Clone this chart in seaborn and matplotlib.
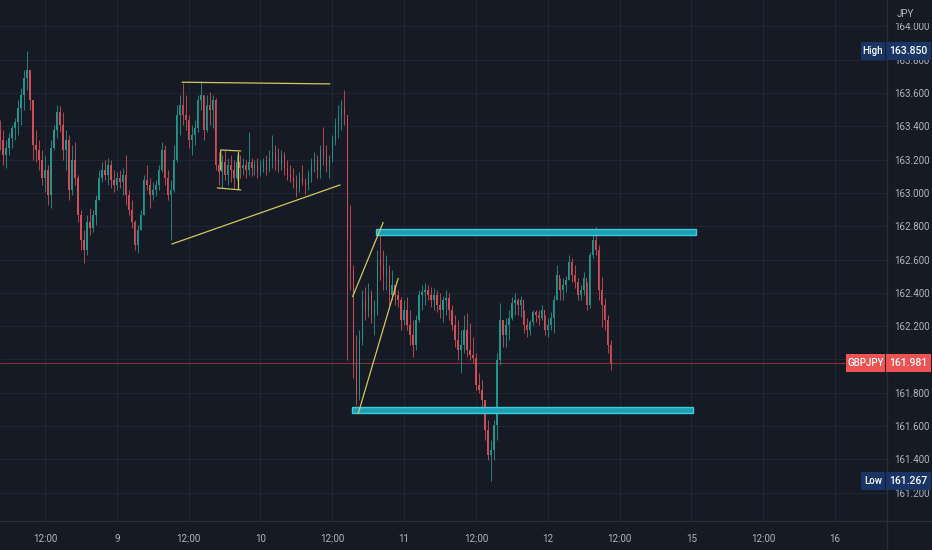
import numpy as np
import matplotlib
matplotlib.use("Agg")
import matplotlib.pyplot as plt
import seaborn as sns
import pandas as pd
from matplotlib.patches import Rectangle
from matplotlib.lines import Line2D
from matplotlib.transforms import blended_transform_factory

# ---------------- data (30-minute candles, GBPJPY) ----------------
first_open = 163.380
highs = [163.438, 163.378, 163.318, 163.360, 163.408, 163.450, 163.558, 163.630, 163.738, 163.850,
         163.738, 163.558, 163.378, 163.318, 163.258, 163.228, 163.168, 163.318, 163.408, 163.528,
         163.522, 163.486, 163.378, 163.348, 163.288, 163.306, 163.108, 162.898, 162.778, 162.868,
         162.910, 162.898, 162.988, 163.138, 163.186, 163.198, 163.210, 163.198, 163.138, 163.126,
         163.138, 163.150, 163.228, 163.018, 162.958, 162.838, 162.808, 162.898, 163.108, 163.168,
         163.090, 163.066, 163.078, 163.168, 163.306, 163.288, 163.138, 163.078, 163.288, 163.528,
         163.588, 163.660, 163.588, 163.468, 163.408, 163.438, 163.588, 163.672, 163.588, 163.588,
         163.606, 163.588, 163.570, 163.246, 163.228, 163.258, 163.210, 163.228, 163.198, 163.228,
         163.228, 163.210, 163.198, 163.366, 163.210, 163.198, 163.210, 163.198, 163.210, 163.228,
         163.258, 163.348, 163.288, 163.270, 163.258, 163.246, 163.198, 163.168, 163.150, 163.108,
         163.126, 163.168, 163.090, 163.138, 163.210, 163.246, 163.228, 163.288, 163.396, 163.288,
         163.228, 163.348, 163.450, 163.528, 163.558, 163.618, 163.468, 162.928, 162.568, 162.147,
         162.177, 162.417, 162.435, 162.459, 162.417, 162.357, 162.658, 162.760, 162.658, 162.628,
         162.568, 162.538, 162.447, 162.417, 162.375, 162.357, 162.375, 162.297, 162.237, 162.267,
         162.417, 162.447, 162.459, 162.447, 162.435, 162.429, 162.417, 162.399, 162.381, 162.417,
         162.399, 162.327, 162.267, 162.237, 162.177, 162.267, 162.279, 162.219, 162.135, 162.039,
         161.919, 161.877, 161.757, 161.637, 161.516, 161.637, 162.039, 162.339, 162.237, 162.249,
         162.297, 162.375, 162.399, 162.369, 162.381, 162.297, 162.249, 162.237, 162.297, 162.297,
         162.297, 162.327, 162.267, 162.249, 162.285, 162.387, 162.568, 162.489, 162.489, 162.501,
         162.628, 162.610, 162.568, 162.489, 162.447, 162.526, 162.465, 162.646, 162.748, 162.796,
         162.688, 162.495, 162.369, 162.267, 162.117]
lows = [163.258, 163.168, 163.150, 163.228, 163.270, 163.318, 163.348, 163.408, 163.498, 163.618,
        163.498, 163.198, 163.186, 163.138, 163.048, 163.006, 162.928, 162.910, 163.258, 163.330,
        163.366, 163.198, 163.138, 162.958, 162.988, 163.048, 162.826, 162.658, 162.580, 162.628,
        162.748, 162.766, 162.808, 162.958, 163.066, 163.078, 163.048, 163.030, 163.006, 163.018,
        163.030, 162.988, 162.928, 162.868, 162.790, 162.658, 162.640, 162.778, 162.868, 163.018,
        162.910, 162.958, 162.982, 163.018, 163.126, 163.048, 162.958, 162.718, 163.006, 163.186,
        163.348, 163.408, 163.378, 163.270, 163.228, 163.288, 163.366, 163.498, 163.318, 163.366,
        163.408, 163.390, 163.138, 163.048, 163.030, 163.078, 163.048, 163.066, 163.030, 163.078,
        163.090, 163.108, 163.090, 163.108, 163.102, 163.108, 163.090, 163.102, 163.126, 163.108,
        163.126, 163.150, 163.138, 163.126, 163.138, 163.108, 163.078, 163.066, 163.030, 162.976,
        163.006, 163.048, 162.994, 163.018, 163.066, 163.126, 163.090, 163.090, 163.168, 163.126,
        163.090, 163.186, 163.288, 163.330, 163.378, 163.408, 161.997, 162.417, 161.889, 161.727,
        161.757, 162.087, 162.237, 162.255, 162.219, 162.147, 162.267, 162.477, 162.417, 162.417,
        162.327, 162.357, 162.327, 162.315, 162.177, 162.207, 162.177, 162.087, 162.015, 162.057,
        162.225, 162.297, 162.327, 162.357, 162.315, 162.297, 162.285, 162.249, 162.225, 162.267,
        162.237, 162.177, 162.075, 161.997, 161.919, 162.039, 162.015, 161.997, 161.979, 161.817,
        161.799, 161.715, 161.516, 161.396, 161.267, 161.396, 161.516, 161.967, 162.075, 162.075,
        162.117, 162.237, 162.267, 162.267, 162.255, 162.159, 162.135, 162.147, 162.207, 162.225,
        162.207, 162.237, 162.147, 162.135, 162.177, 162.159, 162.357, 162.357, 162.357, 162.405,
        162.477, 162.465, 162.429, 162.357, 162.357, 162.387, 162.297, 162.309, 162.610, 162.628,
        162.357, 162.195, 162.177, 162.039, 161.937]
closes = [163.318, 163.228, 163.270, 163.330, 163.390, 163.426, 163.510, 163.588, 163.690, 163.738,
          163.558, 163.288, 163.258, 163.198, 163.090, 163.138, 162.988, 163.270, 163.378, 163.486,
          163.408, 163.258, 163.318, 163.018, 163.198, 163.090, 162.868, 162.718, 162.658, 162.826,
          162.790, 162.868, 162.958, 163.090, 163.138, 163.108, 163.168, 163.078, 163.048, 163.090,
          163.066, 163.108, 162.988, 162.898, 162.826, 162.688, 162.778, 162.868, 163.078, 163.048,
          162.988, 163.018, 163.048, 163.138, 163.258, 163.090, 162.988, 163.018, 163.198, 163.468,
          163.528, 163.468, 163.438, 163.318, 163.348, 163.390, 163.558, 163.588, 163.378, 163.528,
          163.498, 163.558, 163.168, 163.126, 163.186, 163.108, 163.168, 163.138, 163.090, 163.186,
          163.150, 163.168, 163.138, 163.186, 163.150, 163.168, 163.126, 163.162, 163.186, 163.138,
          163.210, 163.246, 163.198, 163.168, 163.228, 163.150, 163.108, 163.090, 163.066, 163.030,
          163.090, 163.066, 163.048, 163.108, 163.168, 163.198, 163.138, 163.258, 163.228, 163.168,
          163.198, 163.318, 163.408, 163.468, 163.510, 163.468, 162.718, 162.538, 161.967, 161.787,
          162.117, 162.357, 162.297, 162.387, 162.267, 162.297, 162.598, 162.568, 162.507, 162.538,
          162.387, 162.447, 162.387, 162.357, 162.237, 162.297, 162.207, 162.147, 162.087, 162.237,
          162.387, 162.405, 162.417, 162.387, 162.357, 162.387, 162.327, 162.297, 162.357, 162.369,
          162.297, 162.207, 162.117, 162.057, 162.087, 162.177, 162.057, 162.027, 162.009, 161.847,
          161.817, 161.757, 161.577, 161.426, 161.456, 161.607, 161.997, 162.237, 162.147, 162.207,
          162.249, 162.339, 162.357, 162.327, 162.357, 162.207, 162.177, 162.225, 162.285, 162.267,
          162.249, 162.297, 162.177, 162.207, 162.249, 162.357, 162.507, 162.417, 162.447, 162.477,
          162.586, 162.507, 162.465, 162.387, 162.417, 162.489, 162.327, 162.628, 162.718, 162.658,
          162.417, 162.327, 162.237, 162.087, 161.981]

start_hour = 4.5          # first candle: day 8, 04:30 (trading-hour axis, weekend removed)
bar_hours = 0.5
tick_hours = [12, 24, 36, 48, 60, 72, 84, 96, 108, 120, 132, 144]
tick_labels = ["12:00", "9", "12:00", "10", "12:00", "11", "12:00", "12", "12:00", "15", "12:00", "16"]
price_ticks = [161.2, 161.4, 161.6, 161.8, 162.0, 162.2, 162.4, 162.6, 162.8, 163.0,
               163.2, 163.4, 163.6, 163.8, 164.0]
symbol = "GBPJPY"
currency = "JPY"
last_price = 161.981
high_price = 163.850
low_price = 161.267

# drawings (hour, price)
trend_lines = [
    [(34.9, 163.665), (59.6, 163.655)],
    [(33.2, 162.693), (61.3, 163.048)],
    [(63.4, 162.377), (68.5, 162.823)],
    [(64.35, 161.677), (71.0, 162.487)],
    [(41.35, 163.138), (41.35, 163.258), (44.7, 163.252)],
    [(40.8, 163.030), (44.7, 163.018)],
    [(44.3, 163.246), (44.3, 163.024)],
]
zones = [
    (67.3, 120.8, 162.748, 162.784),
    (63.3, 120.3, 161.679, 161.715),
]

# ---------------- frame ----------------
n = len(closes)
hours = start_hour + bar_hours * np.arange(n)
opens = [first_open] + closes[:-1]
df = pd.DataFrame(dict(hour=hours, open=opens, high=highs, low=lows, close=closes))
df["up"] = df["close"] >= df["open"]

BG = "#161a25"
GRID = "#212532"
BORDER = "#2a2e39"
TXT = "#b2b5be"
UP = "#23968b"
DN = "#cf4e57"
YEL = "#cfc95c"
FONT = ["Roboto", "DejaVu Sans"]

sns.set_theme(style="dark")
plt.rcParams["font.family"] = FONT

W, H = 932, 550
fig = plt.figure(figsize=(W / 100, H / 100), dpi=100, facecolor=BG)
ax = fig.add_axes([0, 29 / H, 887 / W, 521 / H])
ax.set_facecolor(BG)

# current price line
ax.axhline(last_price, color="#8a3540", lw=0.8, alpha=0.9, zorder=1)

# candles
col = np.where(df["up"], UP, DN)
ax.vlines(df["hour"], df["low"], df["high"], colors=col, lw=0.6, zorder=3)
body_lo = np.minimum(df["open"], df["close"])
body_h = np.maximum(np.abs(df["close"] - df["open"]), 0.004)
ax.bar(df["hour"], body_h, bottom=body_lo, width=0.22, color=col, linewidth=0, zorder=3)

# zones
for x0, x1, y0, y1 in zones:
    ax.add_patch(Rectangle((x0, y0), x1 - x0, y1 - y0, facecolor="#1d9fb3",
                           edgecolor="#3cc8dd", lw=1.0, zorder=4))

# trend lines (seaborn)
for pts in trend_lines:
    tl = pd.DataFrame(pts, columns=["hour", "price"])
    sns.lineplot(data=tl, x="hour", y="price", sort=False, estimator=None, color=YEL,
                 lw=0.9, ax=ax, zorder=5, legend=False)

ax.set_xlabel("")
ax.set_ylabel("")
ax.set_xlim(4.478, 152.68)
ax.set_ylim(161.029, 164.159)
ax.set_xticks(tick_hours)
ax.set_xticklabels(tick_labels)
ax.set_yticks(price_ticks)
ax.set_yticklabels([f"{p:.3f}" for p in price_ticks])
ax.yaxis.tick_right()
ax.tick_params(axis="x", length=0, pad=9, labelcolor=TXT, labelsize=7)
ax.tick_params(axis="y", length=0, pad=5, labelcolor=TXT, labelsize=7)
ax.grid(True, color=GRID, lw=0.8)
ax.set_axisbelow(True)
for s in ax.spines.values():
    s.set_visible(False)

# borders
fig.add_artist(Line2D([0, 1], [29 / H, 29 / H], color=BORDER, lw=1.0, transform=fig.transFigure))
fig.add_artist(Line2D([887 / W, 887 / W], [0, 1], color=BORDER, lw=1.0, transform=fig.transFigure))

# top-right currency label with cover
fig.add_artist(Rectangle((888 / W, 1 - 23 / H), 44 / W, 23 / H, transform=fig.transFigure,
                         facecolor=BG, edgecolor="none", zorder=5))
fig.text(897 / W, 1 - 14 / H, currency, color=TXT, fontsize=7, va="center", ha="left", zorder=6)

trans = blended_transform_factory(fig.transFigure, ax.transData)
half = 9 / 166.5


def price_tag(price, tag, color, tag_w):
    fig.add_artist(Rectangle((886 / W, price - half), 45 / W, 2 * half, transform=trans,
                             facecolor=color, edgecolor="none", zorder=6, clip_on=False))
    fig.add_artist(Rectangle(((885 - tag_w) / W, price - half), tag_w / W, 2 * half, transform=trans,
                             facecolor=color, edgecolor="none", zorder=6, clip_on=False))
    fig.text(908.5 / W, price, f"{price:.3f}", transform=trans, color="white", fontsize=7.5,
             fontweight="medium", ha="center", va="center", zorder=7)
    fig.text((885 - tag_w / 2) / W, price, tag, transform=trans, color="white", fontsize=7,
             fontweight="medium", ha="center", va="center", zorder=7)


price_tag(high_price, "High", "#1b3466", 24)
price_tag(low_price, "Low", "#1b3466", 24)
price_tag(last_price, symbol, "#ee5353", 39)

fig.savefig("out.png", dpi=100, facecolor=BG)
